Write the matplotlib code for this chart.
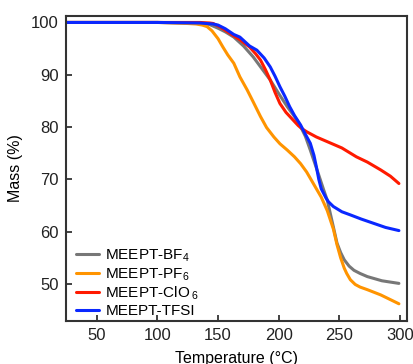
import matplotlib.pyplot as plt
import numpy as np

plt.rcParams['font.family'] = ['Liberation Sans', 'DejaVu Sans']
plt.rcParams['mathtext.fontset'] = 'custom'
plt.rcParams['mathtext.rm'] = 'Liberation Sans'

# TGA curves: temperature (°C) -> mass (%)
t_bf4 = [25, 100, 130, 138, 143, 150, 156, 163, 171, 179, 186, 193, 200, 207, 213, 218, 222, 226, 232, 237, 240, 245, 248, 251, 254, 258, 262, 267, 273, 285, 299]
m_bf4 = [100, 100, 99.9, 99.8, 99.6, 98.9, 98.2, 97.2, 95.5, 93.4, 91.2, 89.0, 86.4, 83.9, 82.0, 80.1, 78.2, 75.6, 71.5, 68.0, 66.0, 60.9, 57.8, 56.0, 54.6, 53.4, 52.6, 52.0, 51.4, 50.6, 50.1]

t_pf6 = [25, 100, 125, 132, 137, 141, 145, 150, 154, 158, 163, 168, 174, 179, 185, 190, 196, 201, 207, 213, 218, 223, 229, 235, 240, 245, 248, 251, 254, 256, 259, 263, 267, 273, 284, 299]
m_pf6 = [100, 100, 99.8, 99.7, 99.5, 99.2, 98.4, 96.9, 95.3, 93.8, 92.2, 89.6, 87.1, 84.8, 82.0, 79.9, 78.1, 76.8, 75.6, 74.3, 73.0, 71.4, 69.0, 66.6, 64.0, 60.5, 57.5, 55.0, 53.0, 52.0, 50.8, 49.9, 49.4, 48.9, 47.9, 46.2]

t_clo = [25, 100, 135, 143, 146, 152, 160, 168, 176, 181, 185, 189, 193, 197, 201, 206, 212, 216, 219, 223, 231, 242, 252, 264, 273, 284, 292, 299]
m_clo = [100, 100, 100, 99.9, 99.8, 99.1, 97.9, 96.7, 95.3, 94.0, 92.8, 91.0, 89.0, 86.6, 84.5, 82.8, 81.3, 80.3, 79.7, 79.1, 78.1, 77.0, 76.0, 74.3, 73.3, 71.8, 70.6, 69.2]

t_tfsi = [25, 100, 135, 146, 150, 156, 163, 168, 176, 182, 188, 193, 197, 201, 205, 209, 213, 218, 222, 226, 229, 231, 233, 235, 237, 239, 241, 245, 252, 259, 268, 278, 288, 299]
m_tfsi = [100, 100, 99.9, 99.7, 99.5, 98.8, 97.7, 97.2, 95.5, 94.7, 93.2, 91.5, 89.7, 87.7, 85.9, 83.9, 82.2, 80.4, 78.6, 76.9, 74.6, 72.4, 70.0, 68.2, 67.3, 66.4, 65.7, 64.8, 63.8, 63.2, 62.4, 61.6, 60.8, 60.2]

labels = ['MEEPT-BF$_4$', 'MEEPT-PF$_6$', 'MEEPT-ClO$\\,_6$', 'MEEPT-TFSI']
colors = ['#777777', '#ff9400', '#ff1a00', '#0a28ff']

fig = plt.figure(figsize=(4.13, 3.64), dpi=100)
ax = fig.add_axes([0.159, 0.118, 0.826, 0.839])

series = [(t_bf4, m_bf4), (t_pf6, m_pf6), (t_clo, m_clo), (t_tfsi, m_tfsi)]
for (t, m), lab, c in zip(series, labels, colors):
    ax.plot(t, m, color=c, linewidth=2.2, label=lab,
            solid_capstyle='round', solid_joinstyle='round')

ax.set_xlim(24.5, 305.5)
ax.set_ylim(42.9, 101.3)
ax.set_xticks([50, 100, 150, 200, 250, 300])
ax.set_yticks([50, 60, 70, 80, 90, 100])
ax.tick_params(direction='in', length=4, width=1.2, labelsize=12, colors='#222222', pad=5)

for s in ax.spines.values():
    s.set_linewidth(1.5)
    s.set_color('#333333')

ax.set_xlabel('Temperature (°C)', fontsize=11.5, labelpad=6)
ax.set_ylabel('Mass (%)', fontsize=11.5, labelpad=6)

ax.legend(loc='lower left', frameon=False, fontsize=11, handlelength=1.45,
          handletextpad=0.45, labelspacing=0.12, borderaxespad=0.3,
          bbox_to_anchor=(0.0, -0.025))

fig.savefig('out.png', dpi=100)
